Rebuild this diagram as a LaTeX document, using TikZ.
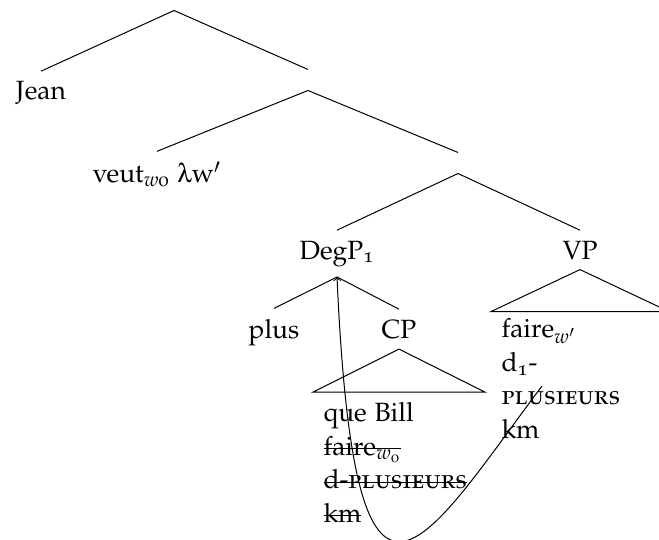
\documentclass[tikz,border=0pt]{standalone}
\usepackage[T1]{fontenc}
\usepackage[osf]{mathpazo}
\usepackage{amsmath}
\usepackage[Symbol]{upgreek}
% struck-through text (deleted copy)
\newcommand\mystrike[1]{\setbox0\hbox{#1}\rlap{\rule[0.23em]{\wd0}{0.5pt}}\box0}
\begin{document}
\begin{tikzpicture}[x=0.5pt,y=-0.5pt,
  font=\fontsize{13.2}{16.7}\selectfont,
  line width=0.5pt,
  lbl/.style={inner xsep=0pt, inner ysep=5pt, anchor=base},
  joint/.style={inner sep=5pt, minimum size=0pt},
  block/.style={align=left, inner sep=0pt, anchor=base west},
  move/.style={->}]
\useasboundingbox (0,0) rectangle (659,540);

% branching points
\node[joint] (r)  at (174,0)   {};
\node[joint] (n1) at (308,80)  {};
\node[joint] (n2) at (458,163) {};

% labelled nodes
\node[lbl] (jean) at (41,100)  {Jean};
\node[lbl] (veut) at (157,183) {veut$_{w\text{0}}$ $\uplambda$w$'$};
\node[lbl] (degp) at (337,259) {DegP\textsubscript{1}};
\node[lbl] (vp)   at (580,259) {VP};
\node[lbl] (plus) at (274,338) {plus};
\node[lbl] (cp)   at (399,338) {CP};

% branches
\draw (r.south)    -- (jean.north);
\draw (r.south)    -- (n1.north);
\draw (n1.south)   -- (veut.north);
\draw (n1.south)   -- (n2.north);
\draw (n2.south)   -- (degp.north);
\draw (n2.south)   -- (vp.north);
\draw (degp.south) -- (plus.north);
\draw (degp.south) -- (cp.north);

% roofs
\draw (cp.south) -- ++(-86,43) -- ++(172,0) -- cycle;
\draw (vp.south) -- ++(-89,42) -- ++(178,0) -- cycle;

% contents under the roofs (anchored at the baseline of the last line)
\node[block] (cpt) at (323,522) {que Bill\\ \mystrike{faire$_{w_{\text{0}}}$}\\ \mystrike{d-\textsc{plusieurs}}\\ \mystrike{km}};
\node[block] (vpt) at (501,438) {faire$_{w'}$\\ d\textsubscript{1}-\\ \textsc{plusieurs}\\ km};

% movement arrow
\coordinate (src) at (542,386);
\draw[move] (src) .. controls (422,546) and (355,677) .. (degp.south);
\end{tikzpicture}
\end{document}
